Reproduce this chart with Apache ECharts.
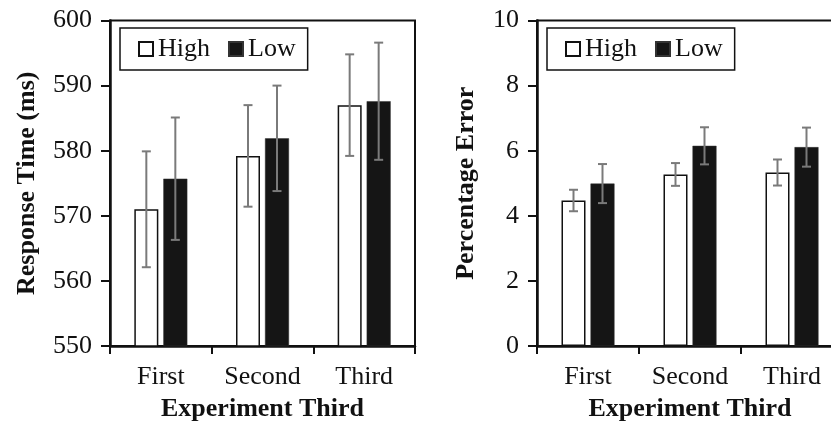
<!DOCTYPE html>
<html>
<head>
<meta charset="utf-8">
<script src="https://cdn.jsdelivr.net/npm/echarts@6.0.0/dist/echarts.min.js"></script>
<style>
  html, body { margin: 0; padding: 0; background: #fff; }
  #chart { width: 831px; height: 422px; }
</style>
</head>
<body>
<div id="chart"></div>
<script>
// --- data ---
const categories = ['First', 'Second', 'Third'];
const seriesNames = ['High', 'Low'];

// left panel: response time (ms)
const rtHigh = [571.0, 579.2, 587.0];
const rtHighErr = [8.9, 7.8, 7.8];
const rtLow = [575.7, 581.9, 587.6];
const rtLowErr = [9.4, 8.1, 9.0];

// right panel: percentage error
const peHigh = [4.47, 5.27, 5.33];
const peHighErr = [0.33, 0.35, 0.40];
const peLow = [4.99, 6.15, 6.11];
const peLowErr = [0.60, 0.57, 0.60];

// --- style ---
const FONT = '"Liberation Serif", "Times New Roman", serif';
const INK = '#111';
const ERR = '#7a7a7a';
const BAR_W = 24;
const BAR_GAP = 5;

const chart = echarts.init(document.getElementById('chart'));

const errBars = (vals, errs, side, idx) => ({
  type: 'custom',
  xAxisIndex: idx,
  yAxisIndex: idx,
  silent: true,
  z: 5,
  data: vals.map((v, i) => [i, v, errs[i]]),
  encode: { x: 0, y: 1 },
  renderItem: (params, api) => {
    const c = api.value(0), v = api.value(1), e = api.value(2);
    const off = side * (BAR_W + BAR_GAP) / 2;
    const top = api.coord([c, v + e]);
    const bot = api.coord([c, v - e]);
    const x = top[0] + off;
    const cap = 4.5;
    const st = { stroke: ERR, lineWidth: 2 };
    return {
      type: 'group',
      children: [
        { type: 'line', shape: { x1: x, y1: top[1], x2: x, y2: bot[1] }, style: st },
        { type: 'line', shape: { x1: x - cap, y1: top[1], x2: x + cap, y2: top[1] }, style: st },
        { type: 'line', shape: { x1: x - cap, y1: bot[1], x2: x + cap, y2: bot[1] }, style: st }
      ]
    };
  }
});

const barSeries = (name, vals, idx) => ({
  name: name,
  type: 'bar',
  xAxisIndex: idx,
  yAxisIndex: idx,
  data: vals,
  barWidth: BAR_W,
  barGap: (BAR_GAP / BAR_W * 100) + '%',
  itemStyle: name === 'High'
    ? { color: '#fff', borderColor: INK, borderWidth: 1.5 }
    : { color: '#151515', borderColor: '#333', borderWidth: 0.5 }
});

const xAxisFor = (idx) => ({
  type: 'category',
  gridIndex: idx,
  data: categories,
  name: 'Experiment Third',
  nameLocation: 'middle',
  nameGap: 50,
  nameTextStyle: { fontFamily: FONT, fontSize: 26, fontWeight: 'bold', color: INK },
  axisLine: { lineStyle: { color: INK, width: 2.5 } },
  axisTick: { show: true, length: 8, lineStyle: { color: INK, width: 2 } },
  axisLabel: { fontFamily: FONT, fontSize: 26, color: INK, margin: 18, interval: 0 }
});

const yAxisFor = (idx, name, min, max, step, gap) => ({
  type: 'value',
  gridIndex: idx,
  min: min,
  max: max,
  interval: step,
  name: name,
  nameLocation: 'middle',
  nameGap: gap,
  nameTextStyle: { fontFamily: FONT, fontSize: 26, fontWeight: 'bold', color: INK },
  axisLine: { show: true, lineStyle: { color: INK, width: 2.5 } },
  axisTick: { show: true, length: 9, lineStyle: { color: INK, width: 2 } },
  axisLabel: { fontFamily: FONT, fontSize: 26, color: INK, margin: 18 },
  splitLine: { show: false }
});

const legendFor = (left) => ({
  left: left,
  top: 28,
  data: seriesNames,
  orient: 'horizontal',
  icon: 'rect',
  itemWidth: 14,
  itemHeight: 14,
  itemGap: 18,
  padding: [8, 12, 8, 18],
  borderColor: INK,
  borderWidth: 1.5,
  selectedMode: false,
  textStyle: { fontFamily: FONT, fontSize: 26, color: INK }
});

const gridFor = (left, width) => ({
  left: left,
  top: 20.5,
  width: width,
  bottom: 76,
  outerBoundsMode: 'none',
  containLabel: false,
  show: true,
  borderColor: INK,
  borderWidth: 2,
  backgroundColor: 'transparent'
});

chart.setOption({
  animation: false,
  backgroundColor: '#fff',
  grid: [gridFor(110, 305), gridFor(537, 306)],
  legend: [legendFor(120), legendFor(547)],
  xAxis: [xAxisFor(0), xAxisFor(1)],
  yAxis: [
    yAxisFor(0, 'Response Time (ms)', 550, 600, 10, 70),
    yAxisFor(1, 'Percentage Error', 0, 10, 2, 58)
  ],
  series: [
    barSeries('High', rtHigh, 0),
    barSeries('Low', rtLow, 0),
    barSeries('High', peHigh, 1),
    barSeries('Low', peLow, 1),
    errBars(rtHigh, rtHighErr, -1, 0),
    errBars(rtLow, rtLowErr, 1, 0),
    errBars(peHigh, peHighErr, -1, 1),
    errBars(peLow, peLowErr, 1, 1)
  ]
});
</script>
</body>
</html>
